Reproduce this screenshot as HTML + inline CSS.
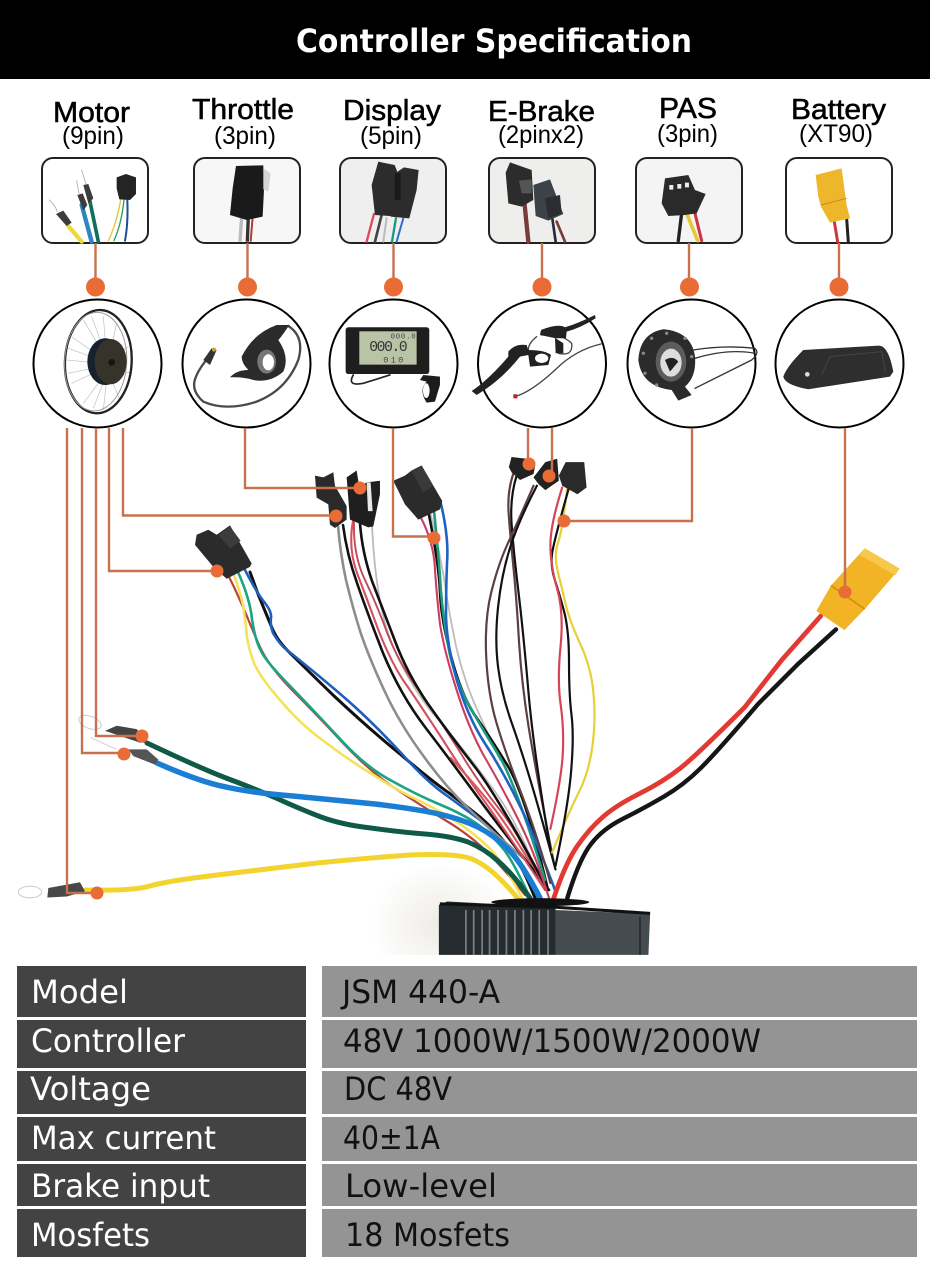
<!DOCTYPE html>
<html><head><meta charset="utf-8"><title>Controller Specification</title>
<style>html,body{margin:0;padding:0;background:#fff;width:930px;height:1280px;overflow:hidden}svg{display:block}
.s{font-family:"Liberation Sans",sans-serif;fill:#000}
.n{font-family:"DejaVu Sans","Liberation Sans",sans-serif}
.w{fill:none;stroke-linejoin:round;stroke-linecap:round}
</style></head><body>
<svg width="930" height="1280" viewBox="0 0 930 1280" xmlns="http://www.w3.org/2000/svg">
<defs><radialGradient id="sh"><stop offset="0" stop-color="#eeece6"/><stop offset=".5" stop-color="#f6f5f2"/><stop offset="1" stop-color="#fff"/></radialGradient></defs>
<rect width="930" height="1280" fill="#fff"/>
<ellipse cx="440" cy="925" rx="70" ry="62" fill="url(#sh)"/>
<rect y="955" width="930" height="325" fill="#fff"/>
<rect width="930" height="79" fill="#000"/>
<text class="n" x="296" y="52" font-size="32" font-weight="700" fill="#fff" textLength="396" lengthAdjust="spacingAndGlyphs">Controller Specification</text>

<!-- labels -->
<g class="s" stroke="#000" stroke-width=".55">
<text x="53" y="122" font-size="29" textLength="77" lengthAdjust="spacingAndGlyphs" class="s">Motor</text>
<text x="192" y="119" font-size="29" textLength="102" lengthAdjust="spacingAndGlyphs" class="s">Throttle</text>
<text x="343" y="120" font-size="29" textLength="98" lengthAdjust="spacingAndGlyphs" class="s">Display</text>
<text x="488" y="121" font-size="29" textLength="107" lengthAdjust="spacingAndGlyphs" class="s">E-Brake</text>
<text x="659" y="118" font-size="29" textLength="58" lengthAdjust="spacingAndGlyphs" class="s">PAS</text>
<text x="791" y="119" font-size="29" textLength="95" lengthAdjust="spacingAndGlyphs" class="s">Battery</text>
</g>
<g class="s" font-size="25">
<text x="62" y="144" textLength="62" lengthAdjust="spacingAndGlyphs" class="s">(9pin)</text>
<text x="214" y="144" textLength="62" lengthAdjust="spacingAndGlyphs" class="s">(3pin)</text>
<text x="360" y="144" textLength="62" lengthAdjust="spacingAndGlyphs" class="s">(5pin)</text>
<text x="498" y="143" textLength="86" lengthAdjust="spacingAndGlyphs" class="s">(2pinx2)</text>
<text x="657" y="142" textLength="61" lengthAdjust="spacingAndGlyphs" class="s">(3pin)</text>
<text x="799" y="142" textLength="74" lengthAdjust="spacingAndGlyphs" class="s">(XT90)</text>
</g>

<!-- connector boxes -->
<g stroke="#222" stroke-width="2">
<rect x="42" y="158" width="106" height="85" rx="11" fill="#fff"/>
<rect x="194" y="158" width="106" height="85" rx="11" fill="#f7f7f7"/>
<rect x="340" y="158" width="106" height="85" rx="11" fill="#efefef"/>
<rect x="489" y="158" width="106" height="85" rx="11" fill="#eeeeec"/>
<rect x="636" y="158" width="106" height="85" rx="11" fill="#f3f4f3"/>
<rect x="786" y="158" width="106" height="85" rx="11" fill="#fff"/>
</g>

<!-- box photos, left three (zoom coordinates) -->
<g transform="translate(0,90) scale(.3333)">
 <g class="w">
 <path d="M205 408 L245 455" stroke="#ecd93a" stroke-width="13"/>
 <path d="M245 345 L275 455" stroke="#2b86c4" stroke-width="13"/>
 <path d="M268 325 L295 455" stroke="#11705c" stroke-width="11"/>
 <path d="M362 330 Q350 400 325 452" stroke="#e0c83a" stroke-width="4"/>
 <path d="M372 330 Q365 400 342 452" stroke="#2d9a60" stroke-width="4"/>
 <path d="M382 330 Q385 400 375 452" stroke="#1b4f95" stroke-width="6"/>
 <path d="M148 330 Q165 345 172 365 M230 272 L237 310 M245 240 L258 282" stroke="#aaa" stroke-width="2.5"/>
 </g>
 <path d="M168 372 L190 362 L215 398 L200 408Z M232 315 L248 310 L262 345 L250 362Z M250 285 L265 282 L280 325 L265 340Z" fill="#3c3c3c"/>
 <path d="M350 262 L378 252 L408 262 L408 312 L390 330 L358 328 L350 295Z" fill="#242424"/>

 <path d="M725 380 L720 455" stroke="#bbb" stroke-width="10"/>
 <path d="M745 382 L742 455" stroke="#333" stroke-width="10"/>
 <path d="M758 382 L752 455" stroke="#b33a3a" stroke-width="6"/>
 <path d="M708 228 L790 226 L792 300 L788 380 L740 390 L690 375 L698 295Z" fill="#1a1a1a"/>
 <path d="M790 235 L812 250 L805 305 L790 298Z" fill="#d5d5d5"/>

 <path class="w" d="M1122 372 L1100 455" stroke="#d84a5c" stroke-width="7"/>
 <path class="w" d="M1145 375 L1125 455" stroke="#444" stroke-width="8"/>
 <path class="w" d="M1160 385 L1150 455" stroke="#bbb" stroke-width="6"/>
 <path class="w" d="M1188 385 L1176 455" stroke="#1a9a80" stroke-width="7"/>
 <path class="w" d="M1210 385 L1190 455" stroke="#2a70c8" stroke-width="6"/>
 <path d="M1135 215 L1184 225 L1194 250 L1194 380 L1125 375 L1115 285Z" fill="#2c2c2c"/>
 <path d="M1212 232 L1256 240 L1250 300 L1228 385 L1172 380 L1172 330 L1185 250Z" fill="#2c2c2c"/>
 <path d="M1184 250h18v80h-18z" fill="#1a1a1a"/>
</g>

<!-- box photos, right three -->
<g transform="translate(465,90) scale(.3333)">
 <path class="w" d="M178 335 L190 455" stroke="#7a3a38" stroke-width="13"/>
 <path class="w" d="M262 385 L272 455" stroke="#2a2a3a" stroke-width="8"/>
 <path class="w" d="M275 395 L300 455" stroke="#7a3a38" stroke-width="8"/>
 <path d="M122 248 L135 217 L200 240 L205 330 L170 350 L130 340Z" fill="#2c2c2c"/>
 <path d="M205 285 L255 268 L295 372 L250 392 L212 378Z" fill="#3c4248"/>
 <path d="M162 272 L200 268 L200 310 L170 310Z" fill="#555"/>
 <path d="M240 325 L285 315 L290 370 L250 385Z" fill="#2a2e33"/>

 <path class="w" d="M650 370 L640 452" stroke="#222" stroke-width="10"/>
 <path class="w" d="M665 370 L698 452" stroke="#e8c838" stroke-width="11"/>
 <path class="w" d="M685 350 L710 452" stroke="#cc3344" stroke-width="9"/>
 <path d="M600 265 L670 255 L690 300 L722 312 L695 370 L660 375 L610 378 L590 340Z" fill="#2a2a2a"/>
 <path d="M613 285h12v14h-12zM637 282h12v14h-12zM660 278h12v14h-12z" fill="#eee"/>

 <path class="w" d="M1108 395 L1118 455" stroke="#d3343a" stroke-width="9"/>
 <path class="w" d="M1145 385 L1150 455" stroke="#222" stroke-width="9"/>
 <path d="M1052 255 L1130 235 L1145 345 L1155 385 L1095 398 L1068 350 L1060 320Z" fill="#eeb62b"/>
 <path d="M1068 345 L1145 325" stroke="#c98c10" stroke-width="3"/>
</g>

<!-- circles -->
<g fill="#fff" stroke="#000" stroke-width="2">
<circle cx="97.5" cy="363.5" r="64"/><circle cx="246.5" cy="363.5" r="64"/><circle cx="393.5" cy="363.5" r="64"/>
<circle cx="542" cy="363.5" r="64"/><circle cx="691.5" cy="363.5" r="64"/><circle cx="839.5" cy="363.5" r="64"/>
</g>

<!-- circle products, left three -->
<g transform="translate(0,90) scale(.3333)">
 <g stroke="#bdbdbd" stroke-width="2" fill="none">
 <path d="M310 680 L320 800 M250 690 L310 790 M215 740 L300 800 M200 810 L300 820 M215 880 L300 840 M250 940 L310 860 M310 960 L320 870 M350 700 L330 790 M385 770 L340 800 M395 850 L350 840 M360 930 L335 870 M275 680 L315 790 M205 775 L300 810 M205 850 L300 830 M280 955 L315 865"/>
 </g>
 <ellipse cx="295" cy="815" rx="100" ry="155" fill="none" stroke="#222" stroke-width="7" transform="rotate(3 295 815)"/>
 <ellipse cx="287" cy="815" rx="93" ry="148" fill="none" stroke="#9a9a9a" stroke-width="3" transform="rotate(3 287 815)"/>
 <ellipse cx="316" cy="815" rx="54" ry="70" fill="#17222e"/>
 <ellipse cx="332" cy="815" rx="48" ry="68" fill="#35332a"/>
 <circle cx="335" cy="817" r="10" fill="#151515"/>

 <path class="w" d="M640 785 Q600 830 588 860 Q570 900 610 935 Q680 965 770 935 Q860 900 895 810 Q915 740 865 708" stroke="#4a4a4a" stroke-width="7"/>
 <path d="M610 810 L635 775 L650 780 L630 825Z" fill="#333"/><circle cx="642" cy="779" r="6" fill="#c8a040"/>
 <path d="M725 800 Q760 730 830 705 L868 705 Q845 740 835 750 Q870 800 850 845 Q810 880 760 870 Q730 860 690 862 Q710 840 745 840 Q725 820 725 800Z" fill="#2b2b2b"/>
 <ellipse cx="800" cy="815" rx="28" ry="36" fill="#777"/><ellipse cx="805" cy="817" rx="17" ry="24" fill="#fff"/>

 <rect x="1037" y="712" width="251" height="140" rx="8" fill="#1e1e1e"/>
 <rect x="1078" y="724" width="172" height="100" fill="#b9c3a6"/>
 <text x="1108" y="783" font-size="44" font-family="Liberation Mono,monospace" fill="#333" textLength="115">000.0</text>
 <text x="1172" y="746" font-size="22" font-family="Liberation Mono,monospace" fill="#444" textLength="75">000.0</text>
 <text x="1150" y="818" font-size="26" font-family="Liberation Mono,monospace" fill="#444" textLength="60">010</text>
 <path class="w" d="M1060 855 Q1040 890 1090 880 L1170 855" stroke="#222" stroke-width="5"/>
 <path d="M1270 855 L1320 860 L1320 885 L1305 935 L1280 938 Q1255 900 1280 875 L1260 870Z" fill="#1c1c1c"/>
 <ellipse cx="1279" cy="902" rx="10" ry="22" fill="#fff"/>
</g>

<!-- circle products, right three -->
<g transform="translate(465,90) scale(.3333)">
 <path class="w" d="M215 740 Q190 760 190 780 M230 735 Q290 730 320 760 Q325 800 280 790 M408 762 Q330 780 270 840 Q200 905 150 920" stroke="#444" stroke-width="4"/>
 <path d="M20 903 Q70 870 130 800 L130 785 Q150 760 185 765 L190 780 Q240 780 258 795 L250 825 L195 830 L190 795 L165 800 Q110 870 35 915Z" fill="#222"/>
 <ellipse cx="230" cy="805" rx="20" ry="14" fill="#fff"/>
 <path d="M228 720 Q280 700 300 712 Q340 700 390 675 L392 685 Q345 715 305 725 L303 745 L270 745 L272 790 L295 790 L295 760 L272 745 L225 735Z" fill="#222"/>
 <rect x="145" y="913" width="12" height="12" fill="#b22"/>

 <path class="w" d="M685 780 Q780 765 870 775 Q885 790 860 810 Q760 860 690 895 M690 805 Q790 775 870 790" stroke="#333" stroke-width="4"/>
 <path d="M520 810 Q525 730 595 718 Q680 725 690 800 Q695 860 660 890 L680 915 L640 932 L620 900 Q530 890 520 810Z" fill="#2b2b2b"/>
 <ellipse cx="618" cy="815" rx="46" ry="60" fill="#5c5c5c"/>
 <ellipse cx="618" cy="818" rx="32" ry="42" fill="#ddd"/>
 <path d="M600 810 Q625 795 640 815 L615 845Z" fill="#222"/>
 <g fill="#8a8a8a"><circle cx="605" cy="730" r="5"/><circle cx="560" cy="745" r="5"/><circle cx="535" cy="790" r="5"/><circle cx="540" cy="850" r="5"/><circle cx="575" cy="885" r="5"/><circle cx="660" cy="745" r="5"/><circle cx="680" cy="800" r="5"/></g>

 <path d="M955 860 Q965 830 1015 780 L1240 767 Q1270 765 1285 845 L1275 860 L1030 898 Q960 885 955 860Z" fill="#2e2e2e"/>
 <path d="M1070 855 L1095 800 L1250 785 L1262 850" fill="none" stroke="#444" stroke-width="3"/>
 <circle cx="1027" cy="853" r="7" fill="#ddd"/>
</g>

<!-- wires: motor signal connector -->
<g class="w" stroke-width="2.6">
 <path d="M228 575 L234 587 Q240 600 246 614 Q252 629 260 647 Q268 665 292 690 Q317 715 342 742 Q367 769 393 787 Q420 805 445 820 Q470 835 487 852 Q505 870 525 895" stroke="#b8453a" stroke-width="2.2"/>
 <path d="M233 572 Q243 600 244 612 Q246 625 247 637 Q249 650 254 663 Q260 677 280 700 Q300 724 325 742 Q350 761 375 776 Q400 792 420 801 Q440 811 460 824 Q480 838 492 851 Q505 865 522 898" stroke="#f4e35a"/>
 <path d="M238 572 Q250 599 252 619 Q255 640 261 651 Q267 663 292 688 Q317 714 342 741 Q367 768 392 781 Q417 795 441 805 Q465 815 480 826 Q495 838 505 851 Q515 865 530 898" stroke="#1aa384"/>
 <path d="M250 572 L258 594 Q267 616 272 628 Q277 640 288 651 Q300 663 333 695 Q367 727 400 754 Q433 782 449 793 Q465 805 480 817 Q495 830 507 845 Q520 860 535 898" stroke="#111" stroke-width="3"/>
 <path d="M245 570 Q258 595 265 603 Q272 612 271 618 Q270 625 273 633 Q280 645 287 650 Q333 687 355 707 Q377 727 402 754 Q427 782 446 795 Q465 809 480 820 Q495 832 507 846 Q520 860 538 898" stroke="#1d5fbe"/>

 <!-- throttle wires -->
 <path d="M338 525 Q340 552 346 580 Q353 609 361 634 Q370 660 385 692 Q400 724 422 754 Q444 785 467 807 Q490 830 535 868" stroke="#8d8d8d"/>
 <path d="M372 525 Q375 590 387 630 Q400 670 430 710 Q465 750 490 785 Q510 810 530 855" stroke="#bbb" stroke-width="1.8"/>
 <path d="M343 525 Q347 555 357 583 Q367 612 383 653 Q400 694 425 727 Q451 761 476 795 Q501 829 549 890" stroke="#111"/>
 <path d="M353 521 Q348 548 357 573 Q367 599 378 629 Q390 660 403 680 Q417 700 441 737 Q465 775 485 802 Q505 830 545 890" stroke="#d8505f" stroke-width="2.1"/>
 <path d="M354 522 Q353 555 365 580 Q377 605 388 635 Q400 665 420 692 Q440 720 460 752 Q480 785 500 810 Q520 835 545 890" stroke="#c04a5a" stroke-width="1.9"/>
 <path d="M360 523 Q362 552 372 581 Q383 610 395 641 Q407 673 428 704 Q450 735 475 767 Q500 800 545 885" stroke="#111"/>

 <!-- display wires -->
 <path d="M430 511 Q441 558 445 585 Q449 612 456 646 Q464 680 476 707 Q488 734 500 760" stroke="#bdbdbd" stroke-width="1.8"/>
 <path d="M429 515 Q439 565 440 592 Q441 619 451 656 Q461 694 474 714 Q488 734 506 763 Q525 792 548 890" stroke="#111"/>
 <path d="M434 511 Q439 558 441 592 Q444 626 450 655 Q457 684 469 705 Q481 727 498 754 Q515 781 545 880" stroke="#1f9a7d"/>
 <path d="M441 504 Q449 538 447 563 Q446 589 446 617 Q447 646 457 681 Q468 717 484 742 Q501 768 516 798 Q532 829 555 890" stroke="#1e63c4"/>
 <path d="M420 516 Q434 542 435 570 Q437 599 440 624 Q444 650 456 688 Q468 727 484 756 Q501 785 518 819 Q535 853 549 898" stroke="#cc3d5e" stroke-width="2.1"/>
</g>
<!-- wires: e-brake / PAS / battery / controller in zoom coords -->
<g transform="translate(400,430) scale(.338)">
 <g class="w" stroke-width="6.5">
 <path d="M335 130 Q318 180 321 240 Q325 300 335 400 Q345 500 352 625 Q360 750 380 875 Q400 1000 455 1280" stroke="#5c3f3f"/>
 <path d="M345 135 Q325 200 330 275 Q335 350 350 475 Q365 600 380 775 Q395 950 445 1240" stroke="#111"/>
 <path d="M395 165 Q345 280 317 340 Q290 400 270 480 Q250 560 255 670 Q260 780 285 865 Q310 950 355 1065 Q400 1180 445 1340" stroke="#5c3f3f"/>
 <path d="M405 165 Q350 270 325 350 Q300 430 290 525 Q280 620 290 700 Q300 780 330 865 Q360 950 390 1050 Q420 1150 460 1300" stroke="#111"/>
 <path d="M495 170 Q480 300 467 335 Q455 370 467 420 Q480 470 490 515 Q500 560 532 630 Q565 700 572 775 Q580 850 570 930 Q560 1010 530 1070 Q500 1130 450 1250" stroke="#e8cf35"/>
 <path d="M500 170 Q455 330 450 365 Q445 400 457 440 Q470 480 485 535 Q500 590 500 685 Q500 780 507 840 Q515 900 507 1000 Q500 1100 460 1290" stroke="#111"/>
 <path d="M480 170 Q445 280 445 340 Q445 400 465 470 Q485 540 475 640 Q465 740 475 810 Q485 880 482 950 Q480 1020 445 1180" stroke="#d64557"/>
 <path d="M150 970 Q250 1080 290 1135 Q330 1190 385 1280" stroke="#d65860"/>
 </g>
 <path class="w" d="M1245 550 L1130 680 L1020 820 Q880 960 830 1000 Q780 1040 710 1075 Q640 1110 600 1145 Q560 1180 525 1230 Q490 1280 455 1385" stroke="#e23a32" stroke-width="14"/>
 <path class="w" d="M1290 590 L1180 690 L1060 810 Q940 950 890 1000 Q840 1050 780 1085 Q720 1120 660 1150 Q600 1180 565 1225 Q530 1270 495 1385" stroke="#161616" stroke-width="13"/>
</g>
<!-- thick motor phase wires -->
<g class="w">
 <path d="M147 743 Q200 768 226 778 Q253 788 276 798 Q300 809 321 817 Q343 825 371 828 Q400 832 425 834 Q451 836 468 842 Q485 849 498 861 Q512 873 530 898" stroke="#0f5a47" stroke-width="5"/>
 <path d="M157 763 Q200 782 226 787 Q253 793 293 796 Q333 800 375 804 Q417 809 439 814 Q461 819 478 827 Q495 836 508 849 Q522 863 540 898" stroke="#1a7ed4" stroke-width="5.5"/>
 <path d="M85 890 Q133 891 150 886 Q167 881 217 875 Q267 869 317 863 Q367 858 410 855 Q457 853 472 859 Q488 866 503 882 Q512 891 519 900" stroke="#f3d42f" stroke-width="5"/>
</g>

<!-- connectors and controller, zoom coordinates -->
<g transform="translate(400,430) scale(.338)">
 <path d="M322 110 L330 80 L375 85 L400 105 L395 130 L355 148 L330 125Z" fill="#222"/>
 <path d="M395 140 L430 95 L465 85 L470 150 L430 178 L410 160Z" fill="#222"/>
 <path d="M470 135 L490 95 L545 95 L552 170 L525 190 L480 165Z" fill="#2a2a2a"/>
 <path d="M1232 535 L1275 460 L1375 350 L1478 410 L1375 530 L1315 592Z" fill="#f2b424"/>
 <path d="M1275 460 L1375 530" stroke="#d18e10" stroke-width="5"/>
 <path d="M1375 350 L1478 410 L1465 430 L1360 370Z" fill="#f7c84a"/>
 <path d="M115 1405 L140 1395 L460 1412 L460 1553 L115 1553Z" fill="#252b2f"/>
 <g stroke="#7a8286" stroke-width="5"><path d="M195 1420V1553M218 1420V1553M243 1420V1553M265 1420V1553M290 1420V1553M315 1420V1553M340 1420V1553M365 1420V1553M388 1420V1553M412 1420V1553M438 1420V1553"/></g>
 <path d="M460 1420 L740 1432 L735 1553 L460 1553Z" fill="#444c4f"/>
 <path d="M710 1440V1553" stroke="#222" stroke-width="4"/>
 <path d="M118 1402 L460 1412 L740 1430" fill="none" stroke="#111" stroke-width="9"/>
 <ellipse cx="415" cy="1397" rx="145" ry="12" fill="#111"/>
</g>
<g transform="translate(0,430) scale(.3333,.338)">
 <path d="M590 310 L625 295 L650 310 L690 282 L755 395 L750 405 L680 440 L640 405 L585 340Z" fill="#2b2b2b"/>
 <path d="M655 310 L690 285 L722 328 L690 350Z" fill="#3c3c3c"/>
 <path d="M945 135 L970 140 L1000 125 L1005 165 L1040 225 L1040 265 L1005 290 L990 280 L985 220 L950 200Z" fill="#2a2a2a"/>
 <path d="M1040 140 L1070 120 L1078 170 L1100 155 L1140 150 L1140 190 L1120 285 L1105 288 L1050 265Z" fill="#1f1f1f"/>
 <path d="M1100 155 L1112 155 L1118 240 L1104 240Z" fill="#e8e8e8"/>
 <path d="M1180 150 L1215 135 L1235 120 L1265 105 L1327 210 L1320 235 L1255 265 L1215 220Z" fill="#2b2b2b"/>
 <path d="M1235 120 L1265 105 L1300 165 L1270 185Z" fill="#3a3a3a"/>
 <path d="M315 890 L350 875 L410 885 L445 925 L420 925 L330 895Z" fill="#444"/>
 <path d="M385 945 L440 945 L475 975 L465 990 L400 965Z" fill="#555"/>
 <path d="M145 1355 L240 1338 L255 1365 L200 1380 L142 1383Z" fill="#484848"/>
 <g fill="none" stroke="#ccc" stroke-width="3">
 <ellipse cx="270" cy="865" rx="35" ry="18" transform="rotate(20 270 865)"/>
 <path d="M272 910 L350 945"/>
 <ellipse cx="90" cy="1367" rx="35" ry="17"/>
 </g>
</g>

<!-- orange callouts -->
<g fill="none" stroke="#c9714f" stroke-width="2.4">
 <path d="M95.5 243V287M247.5 243V287M393.5 243V287M542 243V287M689 243V287M839 243V287"/>
 <path d="M67 428V893H97M82 428V753H124M96 428V736H142M109 428V571H217M123 428V515.5H336"/>
 <path d="M245 428V488H360M393 428V536.5H434M528 428V464M552 428V476M692 428V521H564M845 428V592"/>
</g>
<g fill="#e96b36">
 <circle cx="95.5" cy="287" r="9.5"/><circle cx="247.5" cy="287" r="9.5"/><circle cx="393.5" cy="287" r="9.5"/>
 <circle cx="542" cy="287" r="9.5"/><circle cx="689.5" cy="287" r="9.5"/><circle cx="839" cy="287" r="9.5"/>
 <circle cx="97" cy="893" r="6.5"/><circle cx="124" cy="754" r="6.5"/><circle cx="142" cy="736" r="6.5"/>
 <circle cx="217" cy="571" r="6.5"/><circle cx="336" cy="516" r="6.5"/><circle cx="360" cy="488" r="6.5"/>
 <circle cx="434" cy="538" r="6.5"/><circle cx="529" cy="464" r="6.5"/><circle cx="549" cy="476" r="6.5"/>
 <circle cx="564" cy="521" r="6.5"/><circle cx="845" cy="592" r="6.5"/>
</g>

<!-- spec table -->
<g fill="#434343">
<rect x="17" y="966" width="289" height="51"/><rect x="17" y="1020" width="289" height="48"/><rect x="17" y="1071" width="289" height="43"/>
<rect x="17" y="1117" width="289" height="44"/><rect x="17" y="1164" width="289" height="42"/><rect x="17" y="1209" width="289" height="48"/>
</g>
<g fill="#949494">
<rect x="322" y="966" width="595" height="51"/><rect x="322" y="1020" width="595" height="48"/><rect x="322" y="1071" width="595" height="43"/>
<rect x="322" y="1117" width="595" height="44"/><rect x="322" y="1164" width="595" height="42"/><rect x="322" y="1209" width="595" height="48"/>
</g>
<g class="n" font-size="32" fill="#fff">
<text x="31" y="1003" textLength="97" lengthAdjust="spacingAndGlyphs">Model</text>
<text x="31" y="1052" textLength="154" lengthAdjust="spacingAndGlyphs">Controller</text>
<text x="30" y="1100" textLength="121" lengthAdjust="spacingAndGlyphs">Voltage</text>
<text x="31" y="1149" textLength="185" lengthAdjust="spacingAndGlyphs">Max current</text>
<text x="31" y="1197" textLength="179" lengthAdjust="spacingAndGlyphs">Brake input</text>
<text x="31" y="1246" textLength="119" lengthAdjust="spacingAndGlyphs">Mosfets</text>
</g>
<g class="n" font-size="32" fill="#111">
<text x="342" y="1003" textLength="158" lengthAdjust="spacingAndGlyphs">JSM 440-A</text>
<text x="343" y="1052" textLength="418" lengthAdjust="spacingAndGlyphs">48V 1000W/1500W/2000W</text>
<text x="344" y="1100" textLength="108" lengthAdjust="spacingAndGlyphs">DC 48V</text>
<text x="343" y="1149" textLength="97" lengthAdjust="spacingAndGlyphs">40±1A</text>
<text x="345" y="1197" textLength="152" lengthAdjust="spacingAndGlyphs">Low-level</text>
<text x="345" y="1246" textLength="165" lengthAdjust="spacingAndGlyphs">18 Mosfets</text>
</g>
</svg>
</body></html>
